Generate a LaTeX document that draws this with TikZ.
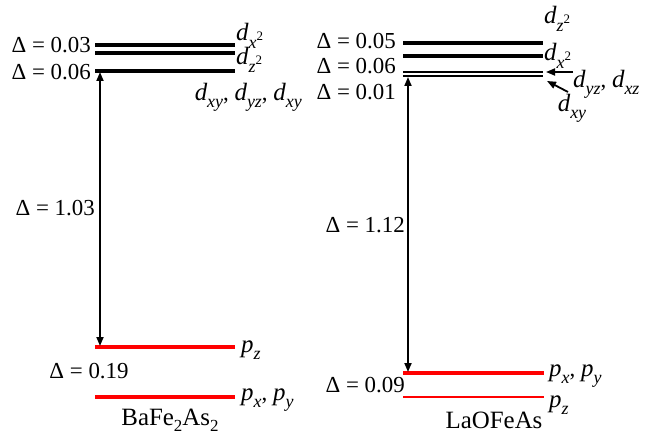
\documentclass[tikz,border=0pt]{standalone}
\usepackage{fontspec}
\setmainfont{Liberation Serif}
\usetikzlibrary{arrows.meta}
\newcommand{\orb}[2]{{\fontsize{25}{27}\selectfont\itshape #1}\raisebox{-0.32em}{\fontsize{18}{18}\selectfont\itshape #2}}
\newcommand{\orbsq}[2]{{\fontsize{25}{27}\selectfont\itshape #1}\raisebox{-0.32em}{\fontsize{18}{18}\selectfont\itshape #2\raisebox{0.45em}{\upshape\fontsize{13}{13}\selectfont 2}}}
\newcommand{\sbs}[1]{\raisebox{-0.25em}{\fontsize{17}{17}\selectfont #1}}
\tikzset{
  lbl/.style={font=\fontsize{23}{27}\selectfont, inner sep=1bp},
  namelbl/.style={font=\fontsize{25}{27}\selectfont, inner sep=1bp},
  dlev/.style={line width=3.2bp},
  thinlev/.style={line width=2bp},
  plev/.style={red, line width=3.2bp},
  thinplev/.style={red, line width=2.2bp},
  gap/.style={{Triangle[length=9bp,width=7bp]}-{Triangle[length=9bp,width=7bp]}, line width=1.8bp},
  pointer/.style={-{Triangle[length=9bp,width=7bp]}, line width=1.8bp}
}
\begin{document}
\begin{tikzpicture}[x=1bp, y=-1bp]
  \useasboundingbox (0,0) rectangle (647,436);
  % BaFe2As2 levels
  \draw[dlev] (95,45) -- (235,45);
  \draw[dlev] (95,53) -- (235,53);
  \draw[dlev] (95,71) coordinate (Btop) -- (235,71);
  \draw[plev] (95,347) coordinate (Bpz) -- (235,347);
  \draw[plev] (95,397) -- (235,397);
  \coordinate (Bup) at (100,72);
  \coordinate (Bdn) at (100,346);
  \draw[gap] (Bup) -- (Bdn);
  % BaFe2As2 labels
  \node[lbl, anchor=east] (Bg1) at (92,45) {Δ = 0.03};
  \node[lbl, anchor=east] (Bg2) at (92,72) {Δ = 0.06};
  \node[lbl, anchor=west] (Bdx) at (235,36) {\orbsq{d}{x}};
  \node[lbl, anchor=west] (Bdz) at (235,60) {\orbsq{d}{z}};
  \node[lbl, anchor=east] (Bdxy) at (303,97) {\orb{d}{xy}, \orb{d}{yz}, \orb{d}{xy}};
  \node[lbl, anchor=east] (Bg3) at (96,208) {Δ = 1.03};
  \node[lbl, anchor=west] (Bpzl) at (240,350) {\orb{p}{z}};
  \node[lbl] (Bg4) at (89,371) {Δ = 0.19};
  \node[lbl, anchor=west] (Bpxy) at (240,400) {\orb{p}{x}, \orb{p}{y}};
  \node[namelbl] (Bname) at (170,420) {BaFe\sbs{2}As\sbs{2}};
  % LaOFeAs levels
  \draw[dlev] (403,43) -- (543,43);
  \draw[dlev] (403,56) -- (543,56);
  \draw[thinlev] (403,72) coordinate (Lyz) -- (543,72) coordinate (Lyzr);
  \draw[thinlev] (403,76) -- (543,76) coordinate (Lxyr);
  \draw[plev] (403,373) -- (544,373);
  \draw[thinplev] (403,397) -- (544,397);
  \coordinate (Lup) at (408,77);
  \coordinate (Ldn) at (408,372);
  \draw[gap] (Lup) -- (Ldn);
  % LaOFeAs labels
  \node[lbl, anchor=east] (Lg1) at (397,41) {Δ = 0.05};
  \node[lbl, anchor=east] (Lg2) at (397,66) {Δ = 0.06};
  \node[lbl, anchor=east] (Lg3) at (397,92) {Δ = 0.01};
  \node[lbl, anchor=west] (Ldz) at (543,19) {\orbsq{d}{z}};
  \node[lbl, anchor=west] (Ldx) at (543,56) {\orbsq{d}{x}};
  \node[lbl, anchor=west] (Ldyz) at (572,84) {\orb{d}{yz}, \orb{d}{xz}};
  \node[lbl] (Ldxy) at (572,108) {\orb{d}{xy}};
  \coordinate (Lp1) at (573,72);
  \coordinate (Lp2) at (568,92);
  \draw[pointer] (Lp1) -- (546,72);
  \draw[pointer] (Lp2) -- (547,81);
  \node[lbl, anchor=east] (Lg4) at (406,225) {Δ = 1.12};
  \node[lbl, anchor=east] (Lg5) at (406,385) {Δ = 0.09};
  \node[lbl, anchor=west] (Lpxy) at (548,376) {\orb{p}{x}, \orb{p}{y}};
  \node[lbl, anchor=west] (Lpz) at (548,405) {\orb{p}{z}};
  \node[namelbl] (Lname) at (494,420) {LaOFeAs};
\end{tikzpicture}
\end{document}
